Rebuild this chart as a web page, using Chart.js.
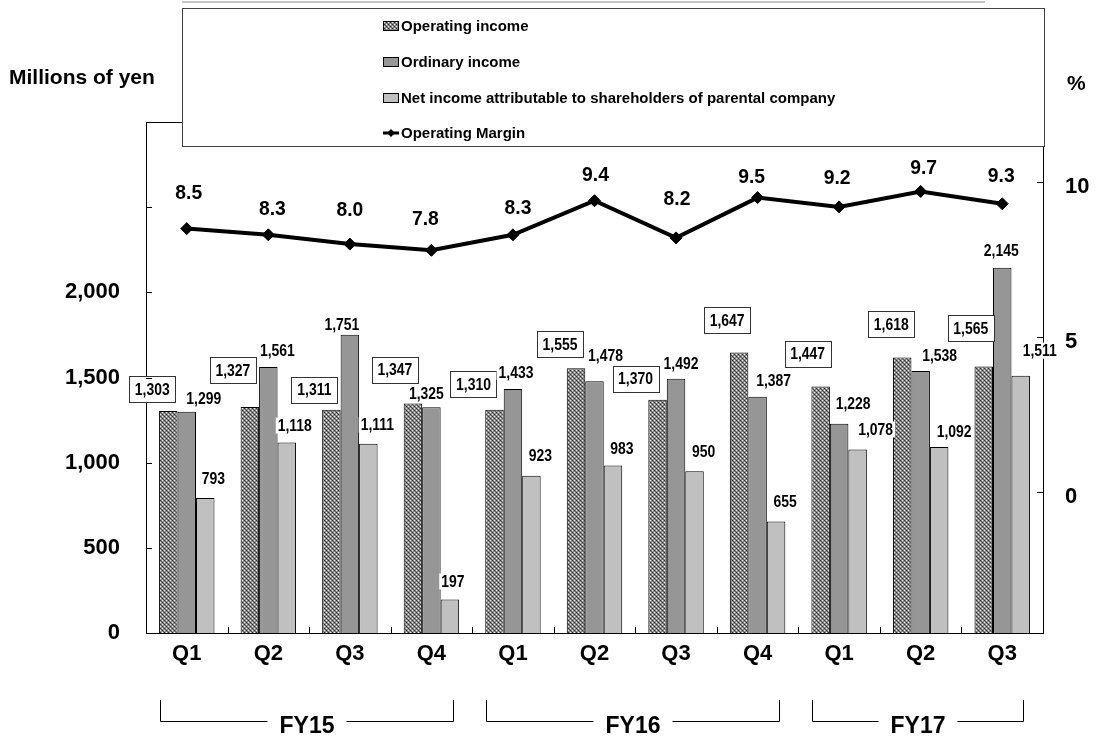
<!DOCTYPE html>
<html>
<head>
<meta charset="utf-8">
<script src="https://cdn.jsdelivr.net/npm/chart.js@4.4.1/dist/chart.umd.min.js"></script>
<style>
  html, body { margin: 0; padding: 0; background: #ffffff; }
  #wrap { width: 1096px; height: 740px; }
</style>
</head>
<body>
<div id="wrap"><canvas id="c" width="1096" height="740"></canvas></div>
<script>
// ---- data -------------------------------------------------------------
const quarters = ['Q1', 'Q2', 'Q3', 'Q4', 'Q1', 'Q2', 'Q3', 'Q4', 'Q1', 'Q2', 'Q3'];
const fiscalYears = ['FY15', 'FY16', 'FY17'];
const fiscalYearFirstQuarter = [0, 4, 8];
const fiscalYearLastQuarter = [3, 7, 10];

const operatingIncome = [1303, 1327, 1311, 1347, 1310, 1555, 1370, 1647, 1447, 1618, 1565];
const ordinaryIncome  = [1299, 1561, 1751, 1325, 1433, 1478, 1492, 1387, 1228, 1538, 2145];
const netIncome       = [793, 1118, 1111, 197, 923, 983, 950, 655, 1078, 1092, 1511];
const operatingMargin = [8.5, 8.3, 8.0, 7.8, 8.3, 9.4, 8.2, 9.5, 9.2, 9.7, 9.3];

const yenTicks = [0, 500, 1000, 1500, 2000, 2500, 3000];
const yenTickLabels = [0, 500, 1000, 1500, 2000];
const marginTicks = [0, 5, 10];

// ---- label placement (pixel nudges from the top centre of each mark) ---
const opLabelNudge  = [[-16,-22],[-17,-37],[-17,-20],[-18,-34],[-21,-26],[-16,-24],[-22,-21],[-12,-32],[-13,-33],[-11,-33],[-13,-38]];
const ordLabelNudge = [[17,-13],[9,-17],[-8,-10],[-5,-14],[3,-17],[11,-26],[5,-16],[16,-16],[14,-21],[19,-16],[-1,-17]];
const netLabelNudge = [[8,-20],[8,-17],[9,-19],[3,-18],[9,-20],[9,-17],[9,-20],[9,-20],[18,-20],[15,-16],[19,-25]];
const marginLabelNudge = [[2,-35],[4,-26],[0,-34],[-6,-31],[5,-27],[1,-26],[1,-39],[-6,-20],[-2,-29],[3,-23],[-1,-28]];

const FONT = "'Liberation Sans', Arial, sans-serif";
const VALUE_SQUEEZE = 0.82;   // condensed look for the value labels

const fmt = v => v.toLocaleString('en-US');

// cross-hatched fill for the operating income bars
function hatchPattern() {
  const t = document.createElement('canvas');
  t.width = 4; t.height = 4;
  const g = t.getContext('2d');
  g.fillStyle = '#8c8c8c'; g.fillRect(0, 0, 4, 4);
  g.fillStyle = '#2e2e2e'; g.fillRect(0, 0, 1, 1); g.fillRect(2, 2, 1, 1);
  g.fillStyle = '#eeeeee'; g.fillRect(2, 0, 1, 1); g.fillRect(0, 2, 1, 1);
  g.fillStyle = '#5c5c5c'; g.fillRect(1, 1, 1, 1); g.fillRect(3, 3, 1, 1);
  return document.getElementById('c').getContext('2d').createPattern(t, 'repeat');
}
const hatch = hatchPattern();

function squeezedText(ctx, text, x, y, sx) {
  ctx.save();
  ctx.translate(x, y);
  ctx.scale(sx, 1);
  ctx.fillText(text, 0, 0);
  ctx.restore();
}

function labelAt(ctx, text, x, y, boxed) {
  ctx.font = 'bold 17px ' + FONT;
  ctx.textAlign = 'center';
  ctx.textBaseline = 'middle';
  const w = ctx.measureText(text).width * VALUE_SQUEEZE;
  ctx.fillStyle = '#ffffff';
  if (boxed) {
    const bx = Math.round(x - 23) + 0.5, by = Math.round(y - 13) + 0.5;
    ctx.fillRect(bx, by, 46, 26);
    ctx.strokeStyle = '#333333';
    ctx.lineWidth = 1;
    ctx.strokeRect(bx, by, 46, 26);
  } else {
    ctx.fillRect(x - w / 2 - 2, y - 8, w + 4, 16);
  }
  ctx.fillStyle = '#000000';
  squeezedText(ctx, text, x, y + 1, VALUE_SQUEEZE);
}

const decorations = {
  id: 'decorations',
  afterDatasetsDraw(chart) {
    const ctx = chart.ctx;
    ctx.save();
    const metaOp = chart.getDatasetMeta(0), metaOrd = chart.getDatasetMeta(1),
          metaNet = chart.getDatasetMeta(2), metaMargin = chart.getDatasetMeta(3);
    operatingIncome.forEach((v, i) => {
      const el = metaOp.data[i];
      labelAt(ctx, fmt(v), el.x + opLabelNudge[i][0], el.y + opLabelNudge[i][1], true);
    });
    ordinaryIncome.forEach((v, i) => {
      const el = metaOrd.data[i];
      labelAt(ctx, fmt(v), el.x + ordLabelNudge[i][0], el.y + ordLabelNudge[i][1], false);
    });
    netIncome.forEach((v, i) => {
      const el = metaNet.data[i];
      labelAt(ctx, fmt(v), el.x + netLabelNudge[i][0], el.y + netLabelNudge[i][1], false);
    });
    ctx.font = 'bold 21px ' + FONT;
    ctx.textAlign = 'center';
    ctx.textBaseline = 'middle';
    ctx.fillStyle = '#000000';
    operatingMargin.forEach((v, i) => {
      const el = metaMargin.data[i];
      squeezedText(ctx, v.toFixed(1), el.x + marginLabelNudge[i][0], el.y + marginLabelNudge[i][1], 0.92);
    });
    ctx.restore();
  },
  afterDraw(chart) {
    const ctx = chart.ctx;
    const area = chart.chartArea;
    const x = chart.scales.x, y = chart.scales.y, y2 = chart.scales.y2;
    ctx.save();
    ctx.strokeStyle = '#000000';
    ctx.lineWidth = 1;

    // plot frame top edge
    ctx.beginPath();
    ctx.moveTo(area.left, Math.round(area.top) + 0.5);
    ctx.lineTo(area.right, Math.round(area.top) + 0.5);
    ctx.stroke();

    // inner tick marks
    ctx.beginPath();
    yenTicks.forEach(v => {
      const py = Math.round(y.getPixelForValue(v)) + 0.5;
      ctx.moveTo(area.left, py); ctx.lineTo(area.left + 6, py);
    });
    marginTicks.forEach(v => {
      const py = Math.round(y2.getPixelForValue(v)) + 0.5;
      ctx.moveTo(area.right, py); ctx.lineTo(area.right - 6, py);
    });
    const catW = x.getPixelForValue(1) - x.getPixelForValue(0);
    for (let i = 1; i < quarters.length; i++) {
      const px = Math.round(x.getPixelForValue(i) - catW / 2) + 0.5;
      ctx.moveTo(px, area.bottom); ctx.lineTo(px, area.bottom - 6);
    }
    ctx.stroke();

    // fiscal year brackets
    ctx.font = 'bold 23px ' + FONT;
    ctx.textAlign = 'center';
    ctx.textBaseline = 'middle';
    ctx.fillStyle = '#000000';
    fiscalYears.forEach((fy, k) => {
      const x0 = Math.round(x.getPixelForValue(fiscalYearFirstQuarter[k]) - catW * 0.33) + 0.5;
      const x1 = Math.round(x.getPixelForValue(fiscalYearLastQuarter[k]) + catW * 0.26) + 0.5;
      const cx = (x0 + x1) / 2;
      const half = ctx.measureText(fy).width / 2 + 12;
      ctx.beginPath();
      ctx.moveTo(x0, 700); ctx.lineTo(x0, 721.5); ctx.lineTo(cx - half, 721.5);
      ctx.moveTo(cx + half, 721.5); ctx.lineTo(x1, 721.5); ctx.lineTo(x1, 700);
      ctx.stroke();
      ctx.fillText(fy, cx, 727);
    });

    // axis titles
    ctx.font = 'bold 21px ' + FONT;
    ctx.textAlign = 'left';
    ctx.fillText('Millions of yen', 9, 78);
    ctx.fillText('%', 1067, 84);

    // faint rule along the top edge
    ctx.strokeStyle = '#c4c4c4';
    ctx.lineWidth = 2;
    ctx.beginPath();
    ctx.moveTo(182, 2); ctx.lineTo(985, 2);
    ctx.stroke();

    // legend box
    const lx = 182.5, ly = 8.5, lw = 862, lh = 138;
    ctx.fillStyle = '#ffffff';
    ctx.fillRect(lx, ly, lw, lh);
    ctx.strokeStyle = '#404040';
    ctx.lineWidth = 1;
    ctx.strokeRect(lx, ly, lw, lh);

    const rows = [26, 62, 98, 133];
    ctx.font = 'bold 15px ' + FONT;
    ctx.textBaseline = 'middle';
    ctx.textAlign = 'left';
    const longest = chart.data.datasets.reduce((m, ds) => Math.max(m, ctx.measureText(ds.label).width), 0);
    const legendSqueeze = Math.min(1, 454 / longest);
    chart.data.datasets.forEach((ds, i) => {
      const ry = rows[i];
      if (ds.type === 'line') {
        ctx.strokeStyle = '#000000';
        ctx.lineWidth = 3;
        ctx.beginPath(); ctx.moveTo(383, ry); ctx.lineTo(399, ry); ctx.stroke();
        ctx.fillStyle = '#000000';
        ctx.beginPath();
        ctx.moveTo(391, ry - 4); ctx.lineTo(395, ry); ctx.lineTo(391, ry + 4); ctx.lineTo(387, ry);
        ctx.closePath(); ctx.fill();
      } else {
        ctx.fillStyle = ds.backgroundColor;
        ctx.fillRect(383, ry - 4, 16, 8);
        ctx.strokeStyle = '#000000';
        ctx.lineWidth = 1;
        ctx.strokeRect(383.5, ry - 4.5, 15, 9);
      }
      ctx.fillStyle = '#000000';
      squeezedText(ctx, ds.label, 401, ry + 1, legendSqueeze);
    });
    ctx.restore();
  }
};

new Chart(document.getElementById('c'), {
  data: {
    labels: quarters,
    datasets: [
      { type: 'bar', label: 'Operating income', data: operatingIncome, yAxisID: 'y',
        backgroundColor: hatch, borderColor: '#000000', borderWidth: 1, order: 2 },
      { type: 'bar', label: 'Ordinary income', data: ordinaryIncome, yAxisID: 'y',
        backgroundColor: '#969696', borderColor: '#000000', borderWidth: 1, order: 2 },
      { type: 'bar', label: 'Net income attributable to shareholders of parental company', data: netIncome, yAxisID: 'y',
        backgroundColor: '#c0c0c0', borderColor: '#000000', borderWidth: 1, order: 2 },
      { type: 'line', label: 'Operating Margin', data: operatingMargin, yAxisID: 'y2',
        borderColor: '#000000', backgroundColor: '#000000', borderWidth: 4,
        pointStyle: 'rectRot', pointRadius: 6, pointBorderWidth: 1,
        pointBackgroundColor: '#000000', pointBorderColor: '#000000',
        tension: 0, fill: false, order: 0 }
    ]
  },
  options: {
    responsive: false,
    animation: false,
    devicePixelRatio: 1,
    layout: { padding: { top: 122, left: 0, right: 0, bottom: 0 } },
    datasets: { bar: { categoryPercentage: 0.68, barPercentage: 1.0 } },
    plugins: { legend: { display: false }, tooltip: { enabled: false } },
    scales: {
      x: {
        grid: { display: false, drawTicks: false },
        border: { display: true, color: '#000000', width: 1 },
        ticks: { color: '#000000', font: { family: FONT, size: 22, weight: 'bold' }, padding: 8 },
        afterFit(s) { s.height = 107; }
      },
      y: {
        position: 'left', min: 0, max: 3000,
        grid: { display: false, drawTicks: false },
        border: { display: true, color: '#000000', width: 1 },
        afterBuildTicks(s) { s.ticks = yenTickLabels.map(v => ({ value: v })); },
        ticks: { color: '#000000', font: { family: FONT, size: 22, weight: 'bold' }, padding: 26,
                 callback: v => fmt(v) },
        afterFit(s) { s.width = 146; }
      },
      y2: {
        position: 'right', min: -4.55, max: 11.94,
        grid: { display: false, drawTicks: false },
        border: { display: true, color: '#000000', width: 1 },
        afterBuildTicks(s) { s.ticks = marginTicks.map(v => ({ value: v })); },
        ticks: { color: '#000000', font: { family: FONT, size: 22, weight: 'bold' }, padding: 22,
                 labelOffset: 5, callback: v => String(v) },
        afterFit(s) { s.width = 53; }
      }
    }
  },
  plugins: [decorations]
});
</script>
</body>
</html>
